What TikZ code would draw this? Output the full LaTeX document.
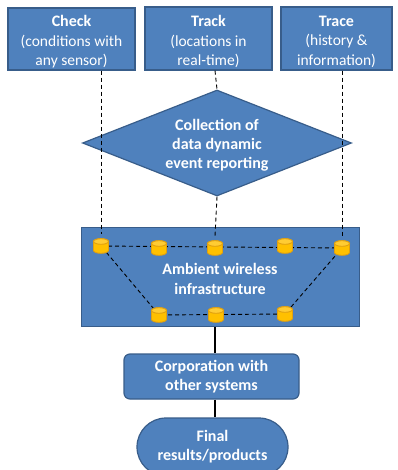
\documentclass[tikz,border=0pt]{standalone}
\usepackage{fontspec}
\setmainfont{Carlito}
\usetikzlibrary{shapes.geometric}
\definecolor{boxblue}{HTML}{4F81BD}
\definecolor{boxedge}{HTML}{385D8A}
\definecolor{cylfill}{HTML}{FFC000}
\definecolor{cyledge}{HTML}{E0A010}
\definecolor{cyltop}{HTML}{FFCC33}
\tikzset{
  bluebox/.style={draw=boxedge, line width=1.2pt, fill=boxblue, text=white, align=center,
    font=\fontsize{15.5}{19.5}\selectfont, inner sep=0pt},
  whitetext/.style={text=white, align=center, font=\fontsize{15.5}{19.5}\selectfont, inner sep=0pt},
  boldtext/.style={font=\fontsize{16}{19}\selectfont\bfseries},
  cyl/.style={minimum width=19pt, minimum height=19pt, inner sep=0pt,
    path picture={
      \begin{scope}[shift={(path picture bounding box.center)}]
        \filldraw[fill=cylfill, draw=cyledge, line width=0.9pt]
          (-7.5,-4.5) -- (-7.5,4.5) arc[start angle=180, end angle=0, x radius=7.5, y radius=2.8]
          -- (7.5,-4.5) arc[start angle=0, end angle=-180, x radius=7.5, y radius=2.8] -- cycle;
        \filldraw[fill=cyltop, draw=cyledge, line width=0.9pt] (0,-4.5) ellipse[x radius=7.5, y radius=2.8];
      \end{scope}
    }},
  dashline/.style={draw=black, dash pattern=on 4pt off 3pt, line width=0.9pt},
  solidline/.style={draw=black, line width=1.5pt}
}
\begin{document}
\begin{tikzpicture}[x=1pt,y=-1pt]
\useasboundingbox (0,0) rectangle (397,470);
\fill[white] (0,0) rectangle (397,470);
% top boxes
\node[bluebox, minimum width=127pt, minimum height=62pt] (check) at (71.5,39) {};
\node[whitetext] (checktxt) at (71.5,42)
  {{\fontsize{16}{19}\selectfont\bfseries Check}\\(conditions with\\any sensor)};
\node[bluebox, minimum width=127pt, minimum height=63pt] (track) at (208.5,38.5) {};
\node[whitetext] (tracktxt) at (208.5,41.5)
  {{\fontsize{16}{19}\selectfont\bfseries Track}\\(locations in\\real-time)};
\node[bluebox, minimum width=111pt, minimum height=63pt] (trace) at (336.5,38.5) {};
\node[whitetext] (tracetxt) at (336.5,41.5)
  {{\fontsize{16}{19}\selectfont\bfseries Trace}\\(history \&\\information)};
% diamond
\node[bluebox, diamond, aspect=2.5, minimum width=269pt, minimum height=106pt] (coll) at (217,143) {};
\node[whitetext, boldtext] (colltxt) at (217,145)
  {Collection of\\data dynamic\\event reporting};
% ambient box
\node[bluebox, minimum width=278pt, minimum height=99pt] (amb) at (220.5,277) {};
\node[text=white, align=center, font=\fontsize{16}{20}\selectfont\bfseries] (ambtxt) at (220,279)
  {Ambient wireless\\infrastructure};
% cylinders
\coordinate (p1) at (101,246);
\coordinate (p5) at (342,248);
\coordinate (q1) at (159,315);
\coordinate (q3) at (285,314);
\draw[dashline] (p1) -- (p5) -- (q3) -- (q1) -- cycle;
\node[cyl] (c1) at (101,246) {};
\node[cyl] (c2) at (159,248) {};
\node[cyl] (c3) at (215,248) {};
\node[cyl] (c4) at (285,246) {};
\node[cyl] (c5) at (342,248) {};
\node[cyl] (b1) at (159,315) {};
\node[cyl] (b2) at (216,315) {};
\node[cyl] (b3) at (285,314) {};
% vertical dashed
\draw[dashline] (check.south -| c1) -- ([yshift=2pt]c1.north);
\draw[dashline] (track.south -| c3) -- (coll.north);
\draw[dashline] (coll.south) -- ([yshift=2pt]c3.north);
\draw[dashline] (trace.south -| c5) -- ([yshift=2pt]c5.north);
% lower boxes
\node[bluebox, boldtext, rounded corners=6pt, minimum width=175pt, minimum height=45pt] (corp) at (211.5,376.5)
  {Corporation with\\other systems};
\node[bluebox, boldtext, rounded corners=29pt, minimum width=151pt, minimum height=58pt] (final) at (212.5,447)
  {Final\\results/products};
\draw[solidline] (amb.south -| c3) -- (corp.north -| c3);
\draw[solidline] (corp.south -| c3) -- (final.north -| c3);
\end{tikzpicture}
\end{document}
